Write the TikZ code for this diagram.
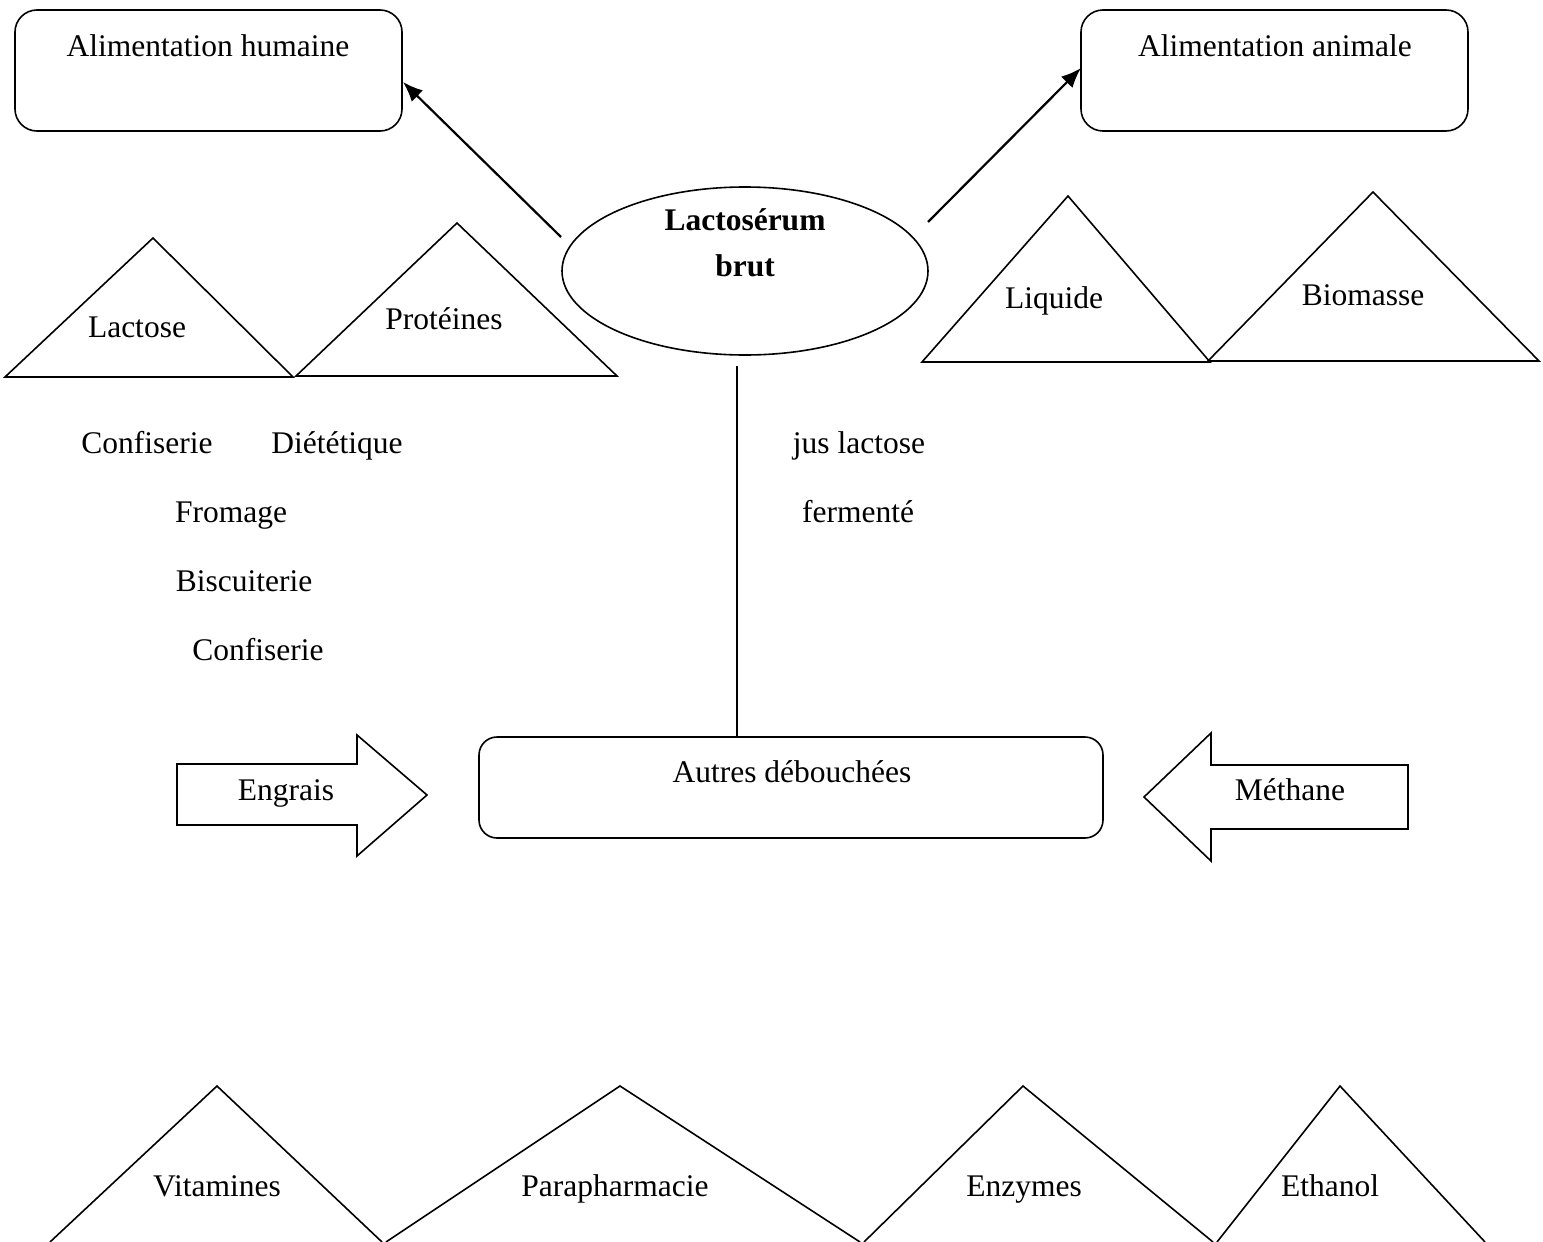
\documentclass[tikz,border=0pt]{standalone}
\usepackage{fontspec}
\setmainfont{Liberation Serif}
\usetikzlibrary{arrows.meta,shapes.geometric}
\begin{document}
\begin{tikzpicture}[x=1pt,y=-1pt,
  every node/.style={font=\fontsize{31.5}{38}\selectfont, inner sep=0pt},
  ln/.style={line width=1.6pt, line join=miter},
  rbox/.style={ln, draw, rounded corners=22pt},
  lab/.style={anchor=center, text height=24pt, text depth=3pt},
  arr/.style={line width=2.2pt, -{Latex[length=20pt,width=16pt]}}]
\useasboundingbox (0,0) rectangle (1543,1242);
% top boxes
\draw[rbox] (15,10) rectangle (402,131);
\node[lab] (ah) at (208,46) {Alimentation humaine};
\draw[rbox] (1081,10) rectangle (1468,131);
\node[lab] (aa) at (1275,46) {Alimentation animale};
\coordinate (ahr) at (403,82);
\coordinate (aal) at (1081,68);
% ellipse
\node[ellipse, draw, ln, minimum width=366pt, minimum height=168pt] (lb) at (745,271) {};
\node[lab, font=\fontsize{31.5}{38}\selectfont\bfseries] (lbt) at (745,220) {Lactosérum};
\node[lab, font=\fontsize{31.5}{38}\selectfont\bfseries] (lbb) at (745,266) {brut};
\coordinate (e1) at (561,237);
\coordinate (e2) at (928,222);
\draw[arr] (e1) -- (ahr);
\draw[arr] (e2) -- (aal);
% triangles top
\draw[ln] (5,377) -- (153,238) -- (293,377) -- cycle;
\node[lab] (lac) at (137,327) {Lactose};
\draw[ln] (296,376) -- (457,223) -- (617,376) -- cycle;
\node[lab] (pro) at (444,319) {Protéines};
\draw[ln] (922,362) -- (1068,196) -- (1210,362) -- cycle;
\node[lab] (liq) at (1054,298) {Liquide};
\draw[ln] (1208,361) -- (1373,192) -- (1539,361) -- cycle;
\node[lab] (bio) at (1363,295) {Biomasse};
% texts
\node[lab] (c1) at (147,443) {Confiserie};
\node[lab] (di) at (337,443) {Diététique};
\node[lab] (fr) at (231,512) {Fromage};
\node[lab] (bi) at (244,581) {Biscuiterie};
\node[lab] (c2) at (258,650) {Confiserie};
\node[lab] (jl) at (859,443) {jus lactose};
\node[lab] (fe) at (858,512) {fermenté};
% autres
\draw[ln, rounded corners=18pt] (479,737) rectangle (1103,838);
\node[lab] (au) at (792,772) {Autres débouchées};
\coordinate (vtop) at (737,366);
\coordinate (vbot) at (737,737);
\draw[ln] (vtop) -- (vbot);
% block arrows
\draw[ln] (177,764) -- (357,764) -- (357,735) -- (427,795) -- (357,856) -- (357,825) -- (177,825) -- cycle;
\node[lab] (en) at (286,790) {Engrais};
\draw[ln] (1408,765) -- (1211,765) -- (1211,733) -- (1144,797) -- (1211,861) -- (1211,829) -- (1408,829) -- cycle;
\node[lab] (me) at (1290,790) {Méthane};
% bottom triangles
\draw[ln] (50,1242) -- (217,1086) -- (382,1242);
\node[lab] (vi) at (217,1186) {Vitamines};
\draw[ln] (386,1242) -- (620,1086) -- (860,1242);
\node[lab] (pa) at (615,1186) {Parapharmacie};
\draw[ln] (864,1242) -- (1023,1086) -- (1213,1242);
\node[lab] (ez) at (1024,1186) {Enzymes};
\draw[ln] (1217,1242) -- (1340,1086) -- (1485,1242);
\node[lab] (et) at (1330,1186) {Ethanol};
\end{tikzpicture}
\end{document}
